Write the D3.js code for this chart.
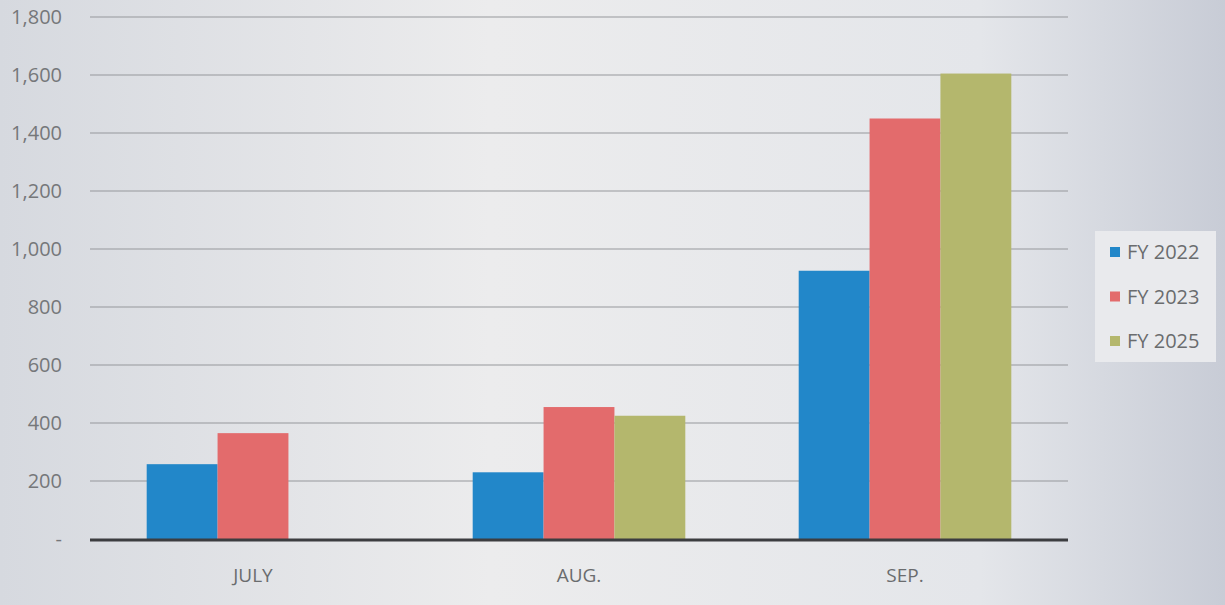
<!DOCTYPE html>
<meta charset="utf-8">
<head>
<style>
body { margin: 0; background: #e6e7ea; }
svg { display: block; }
</style>
</head>
<body>
<div id="chart"></div>
<script src="https://d3js.org/d3.v7.min.js"></script>
<script>

// data
const months = ["JULY", "AUG.", "SEP."];
const seriesNames = ["FY 2022", "FY 2023", "FY 2025"];
const fy2022 = [258, 230, 925];
const fy2023 = [365, 455, 1450];
const fy2025 = [null, 425, 1605];
const yTicks = [0, 200, 400, 600, 800, 1000, 1200, 1400, 1600, 1800];
const colors = ["#2287c9", "#e36b6c", "#b4b76d"];

const width = 1225, height = 605;
const margin = {top: 17, right: 157, bottom: 66, left: 90};

const svg = d3.select("#chart").append("svg")
    .attr("width", width)
    .attr("height", height);

// scanned-paper look: soft grey gradient
const defs = svg.append("defs");
const grad = defs.append("linearGradient").attr("id", "bg").attr("x1", "0%").attr("x2", "100%");
grad.append("stop").attr("offset", "0%").attr("stop-color", "#d6d9df");
grad.append("stop").attr("offset", "40%").attr("stop-color", "#ececed");
grad.append("stop").attr("offset", "80%").attr("stop-color", "#e4e6ea");
grad.append("stop").attr("offset", "100%").attr("stop-color", "#c8ccd6");
svg.append("rect").attr("width", width).attr("height", height).attr("fill", "url(#bg)");

const x = d3.scaleBand()
    .domain(months)
    .range([margin.left, width - margin.right]);

const xInner = d3.scaleBand()
    .domain(seriesNames)
    .range([0, x.bandwidth()])
    .paddingOuter(0.8)
    .paddingInner(0);

const y = d3.scaleLinear()
    .domain([0, 1800])
    .range([height - margin.bottom, margin.top]);

// gridlines
svg.append("g")
    .selectAll("line")
    .data(yTicks.slice(1))
    .join("line")
    .attr("x1", margin.left)
    .attr("x2", width - margin.right)
    .attr("y1", d => y(d))
    .attr("y2", d => y(d))
    .attr("stroke", "#96989c")
    .attr("stroke-width", 1.2);

// y labels
svg.append("g")
    .selectAll("text")
    .data(yTicks)
    .join("text")
    .attr("x", 62)
    .attr("y", d => y(d))
    .attr("dy", "0.35em")
    .attr("text-anchor", "end")
    .attr("font-family", "'Open Sans', sans-serif")
    .attr("font-size", 20)
    .attr("fill", "#75777a")
    .text(d => d === 0 ? "-" : d3.format(",")(d));

// bars
const table = months.map((m, i) => ({
    month: m,
    values: [fy2022[i], fy2023[i], fy2025[i]]
}));

const groups = svg.append("g")
    .selectAll("g")
    .data(table)
    .join("g")
    .attr("transform", d => `translate(${x(d.month)},0)`);

groups.selectAll("rect")
    .data(d => d.values.map((v, j) => ({name: seriesNames[j], value: v, j: j})).filter(e => e.value != null))
    .join("rect")
    .attr("x", d => xInner(d.name))
    .attr("width", xInner.bandwidth())
    .attr("y", d => y(d.value))
    .attr("height", d => y(0) - y(d.value))
    .attr("fill", d => colors[d.j]);

// baseline
svg.append("line")
    .attr("x1", margin.left)
    .attr("x2", width - margin.right)
    .attr("y1", y(0) + 1)
    .attr("y2", y(0) + 1)
    .attr("stroke", "#3c3d40")
    .attr("stroke-width", 3);

// month labels
svg.append("g")
    .selectAll("text")
    .data(months)
    .join("text")
    .attr("x", d => x(d) + x.bandwidth() / 2)
    .attr("y", 575)
    .attr("dy", "0.35em")
    .attr("text-anchor", "middle")
    .attr("font-family", "'Open Sans', sans-serif")
    .attr("font-size", 19)
    .attr("fill", "#6a6c6e")
    .text(d => d);

// legend
const legend = svg.append("g").attr("transform", "translate(1095,231)");
legend.append("rect")
    .attr("width", 121).attr("height", 131)
    .attr("fill", "#e9eaed");
const items = legend.selectAll("g")
    .data(seriesNames)
    .join("g")
    .attr("transform", (d, i) => `translate(0,${21 + i * 44.5})`);
items.append("rect")
    .attr("x", 15).attr("y", -5)
    .attr("width", 10).attr("height", 10)
    .attr("fill", (d, i) => colors[i]);
items.append("text")
    .attr("x", 32)
    .attr("dy", "0.35em")
    .attr("font-family", "'Open Sans', sans-serif")
    .attr("font-size", 20)
    .attr("fill", "#6a6c6e")
    .text(d => d);

</script>
</body>
